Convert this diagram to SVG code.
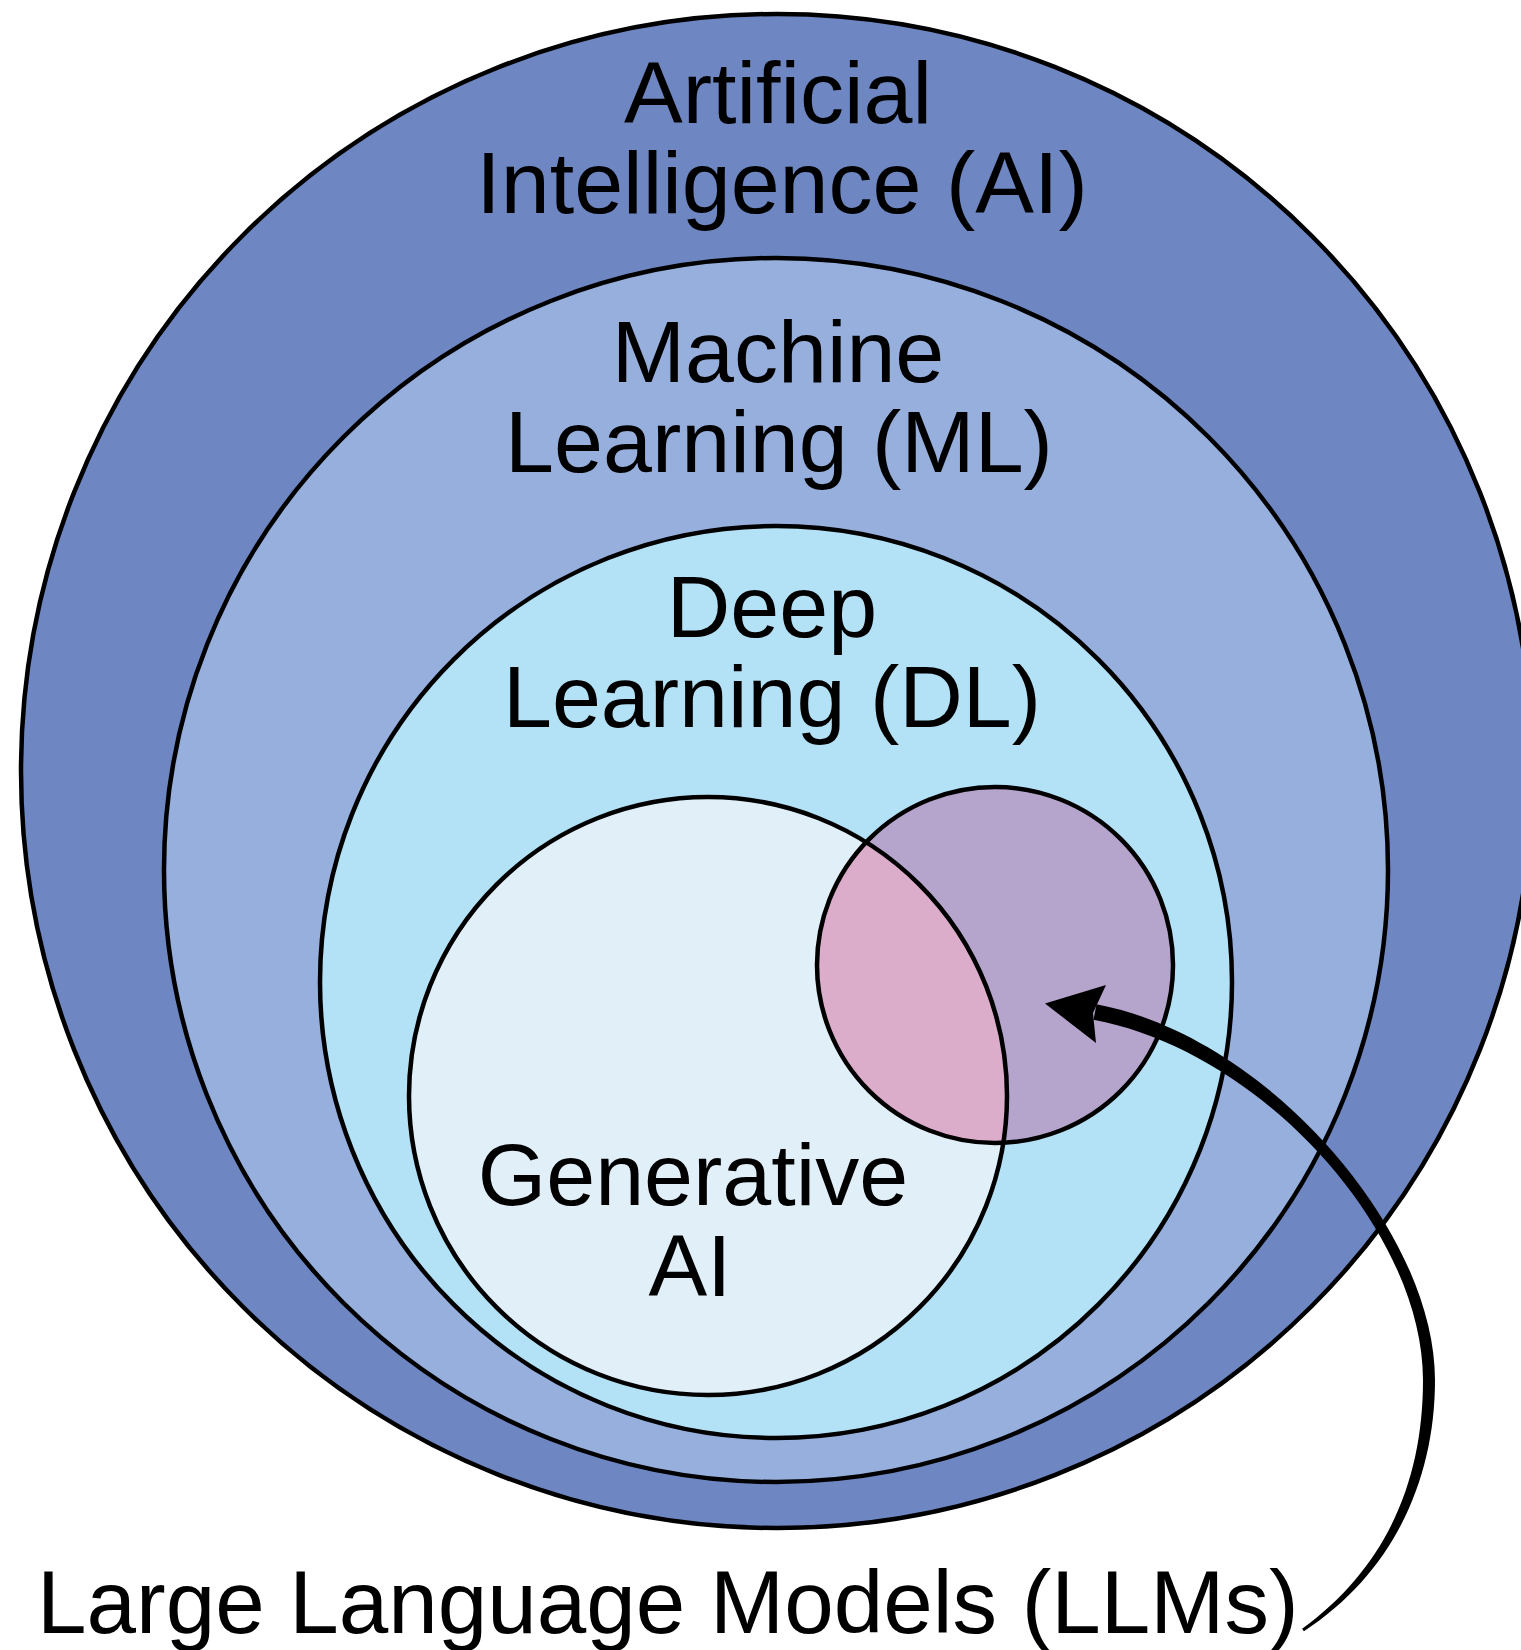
<svg xmlns="http://www.w3.org/2000/svg" width="1521" height="1650" viewBox="0 0 1521 1650">
<style>
.ring{stroke:#000;stroke-width:4.5}
.lbl{font-family:"Liberation Sans",Arial,Helvetica,sans-serif;font-size:88px;fill:#000;text-anchor:middle}
</style>
<defs>
<clipPath id="genClip"><circle cx="708" cy="1096" r="299"/></clipPath>
</defs>
<rect x="0" y="0" width="1521" height="1650" fill="#fff"/>
<g id="node-ai">
<ellipse class="ring" cx="777" cy="771" rx="756" ry="757" fill="#6e86c2"/>
<text class="lbl"><tspan x="778" y="123">Artificial</tspan><tspan x="782" y="213">Intelligence (AI)</tspan></text>
</g>
<g id="node-ml">
<circle class="ring" cx="776" cy="870" r="612" fill="#97afdd"/>
<text class="lbl"><tspan x="778" y="382">Machine</tspan><tspan x="779" y="472">Learning (ML)</tspan></text>
</g>
<g id="node-dl">
<circle class="ring" cx="776" cy="982" r="456" fill="#b3e1f5"/>
<text class="lbl"><tspan x="772" y="637">Deep</tspan><tspan x="772" y="727">Learning (DL)</tspan></text>
</g>
<g id="node-genai">
<circle cx="708" cy="1096" r="299" fill="#e1eff9"/>
<text class="lbl"><tspan x="693" y="1205">Generative</tspan><tspan x="690" y="1296">AI</tspan></text>
</g>
<g id="node-llm">
<circle cx="995" cy="965" r="178" fill="#b5a4cc"/>
<circle cx="995" cy="965" r="178" fill="#dcaccb" clip-path="url(#genClip)"/>
<circle cx="708" cy="1096" r="299" fill="none" class="ring" stroke-width="4"/>
<circle cx="995" cy="965" r="178" fill="none" class="ring" stroke-width="4"/>
<text class="lbl" x="37" y="1633" style="text-anchor:start;font-size:89px">Large Language Models (LLMs)</text>
</g>
<g id="connectors">
<path d="M1303.9,1631.2 C1393,1573 1435,1480 1435,1380 C1435,1230 1266.5,1036.2 1096.5,1004.2 L1093.5,1019.8 C1263.5,1051.8 1423,1232 1423,1380 C1423,1480 1387,1567 1302.1,1628.8 Z" fill="#000"/>
<path d="M1045,1003.5 L1106,985 L1093,1013 L1096,1043 Z" fill="#000"/>
</g>
</svg>
